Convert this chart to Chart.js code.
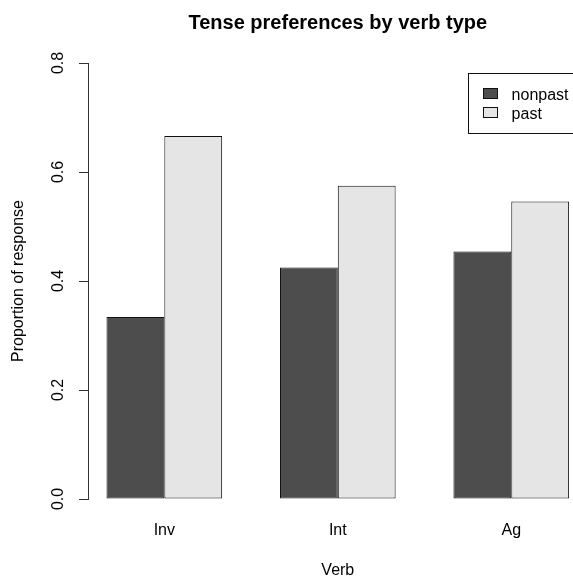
<!DOCTYPE html>
<html>
<head>
<meta charset="utf-8">
<title>Tense preferences by verb type</title>
<script src="https://cdn.jsdelivr.net/npm/chart.js@4.4.1/dist/chart.umd.min.js"></script>
<style>
  html, body { margin: 0; padding: 0; background: #fff; overflow: hidden; }
  #wrap { width: 600px; height: 578px; }
</style>
</head>
<body>
<div id="wrap"><canvas id="myChart" width="600" height="578"></canvas></div>
<script>
// ***********data***********
const verbs = ['Inv', 'Int', 'Ag'];
const nonpast = [0.334, 0.425, 0.454];
const past = [0.666, 0.575, 0.546];
const seriesNames = ['nonpast', 'past'];
const yTicks = [0, 0.2, 0.4, 0.6, 0.8];

// R barplot layout: bars 1 unit wide, space 1 between groups
const groupCenter = i => 2 + 3 * i;
const firstEdge = 1, lastEdge = 3 * verbs.length;
const xPad = 0.04 * (lastEdge - firstEdge);

const FONT = '"Liberation Sans", Arial, sans-serif';
const ctx = document.getElementById('myChart');

// ********legend box (drawn like R legend, top right)******
const boxLegend = {
  id: 'boxLegend',
  afterDraw(chart) {
    const c = chart.ctx;
    const area = chart.chartArea;
    const w = 120, h = 60;
    const left = area.right - w, top = area.top + 10;
    c.save();
    c.strokeStyle = '#111';
    c.lineWidth = 1;
    c.strokeRect(Math.round(left) + 0.5, Math.round(top) + 0.5, w, h);
    chart.data.datasets.forEach((ds, i) => {
      const cy = top + 20.5 + i * 19.3;
      c.fillStyle = ds.backgroundColor;
      c.fillRect(Math.round(left + 15) + 0.5, Math.round(cy - 5.5) + 0.5, 14, 10);
      c.strokeStyle = '#111';
      c.strokeRect(Math.round(left + 15) + 0.5, Math.round(cy - 5.5) + 0.5, 14, 10);
      c.fillStyle = '#000';
      c.font = '16px ' + FONT;
      c.textAlign = 'left';
      c.textBaseline = 'alphabetic';
      c.fillText(ds.label, left + 44, cy + 6.5);
    });
    c.restore();
  }
};

new Chart(ctx, {
  type: 'bar',
  data: {
    datasets: [
      {
        label: seriesNames[0],
        data: verbs.map((v, i) => ({ x: groupCenter(i), y: nonpast[i] })),
        backgroundColor: '#4d4d4d',
        borderColor: '#111',
        borderWidth: 1,
        borderSkipped: false
      },
      {
        label: seriesNames[1],
        data: verbs.map((v, i) => ({ x: groupCenter(i), y: past[i] })),
        backgroundColor: '#e5e5e5',
        borderColor: '#111',
        borderWidth: 1,
        borderSkipped: false
      }
    ]
  },
  options: {
    responsive: false,
    animation: false,
    devicePixelRatio: 1,
    categoryPercentage: 2 / 3,
    barPercentage: 1,
    layout: { padding: { left: 0, right: 12.4, top: 0, bottom: 0 } },
    plugins: {
      legend: { display: false },
      tooltip: { enabled: false },
      title: {
        display: true,
        text: 'Tense preferences by verb type',
        fullSize: false,
        color: '#000',
        font: { family: FONT, size: 20, weight: 'bold' },
        padding: { top: 11, bottom: 28 }
      }
    },
    scales: {
      x: {
        type: 'linear',
        offset: false,
        min: firstEdge - xPad,
        max: lastEdge + xPad,
        afterBuildTicks: s => { s.ticks = verbs.map((v, i) => ({ value: groupCenter(i) })); },
        afterFit: s => { s.height = 79; },
        grid: { display: false, drawTicks: false },
        border: { display: false },
        ticks: {
          color: '#000',
          padding: 22,
          font: { family: FONT, size: 16 },
          callback: (val, i) => verbs[i]
        },
        title: {
          display: true,
          text: 'Verb',
          color: '#000',
          font: { family: FONT, size: 16, lineHeight: 0.875 },
          padding: { top: 0, bottom: 0 }
        }
      },
      y: {
        min: 0,
        max: 0.8,
        afterBuildTicks: s => { s.ticks = yTicks.map(v => ({ value: v })); },
        afterFit: s => { s.width = 88; },
        grid: { drawOnChartArea: false, drawTicks: true, tickLength: 9, color: '#333' },
        border: { display: true, color: '#333', width: 1 },
        ticks: {
          color: '#000',
          padding: 9,
          minRotation: 90,
          maxRotation: 90,
          crossAlign: 'center',
          font: { family: FONT, size: 16 },
          callback: v => v.toFixed(1)
        },
        title: {
          display: true,
          text: 'Proportion of response',
          color: '#000',
          font: { family: FONT, size: 16 },
          padding: { top: 9, bottom: 0 }
        }
      }
    }
  },
  plugins: [boxLegend]
});
</script>
</body>
</html>
